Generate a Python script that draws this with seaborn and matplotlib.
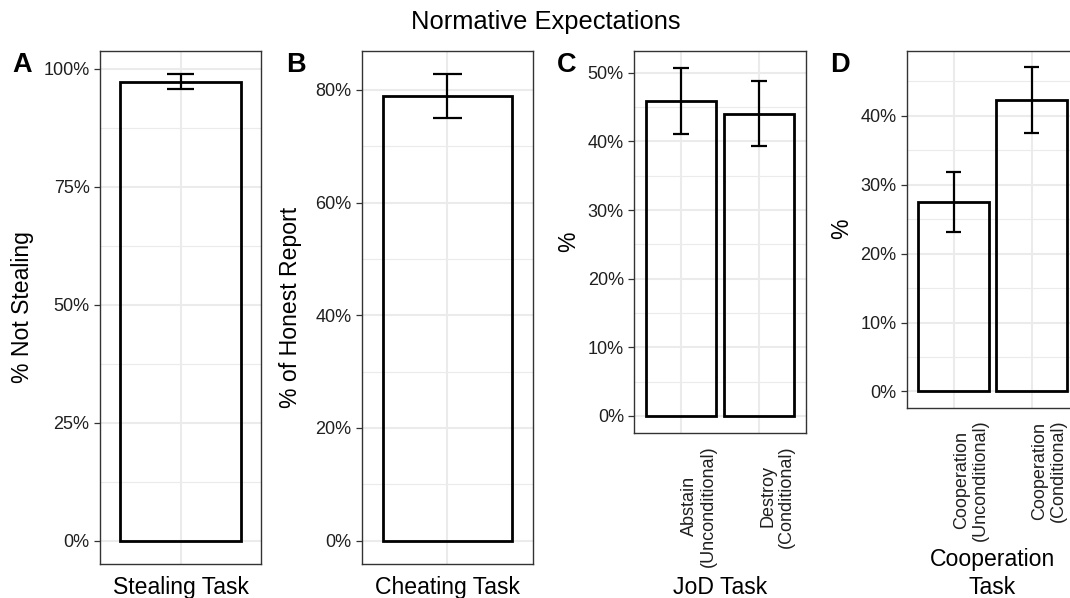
import matplotlib
matplotlib.use("Agg")
import matplotlib.pyplot as plt
import matplotlib.ticker as mticker
import seaborn as sns
import pandas as pd

# ---------------- data ----------------
a_categories = ["Stealing Task"]
a_values = [97.3]
a_errors = [1.6]

b_categories = ["Cheating Task"]
b_values = [78.9]
b_errors = [3.9]

c_categories = ["Abstain\n(Unconditional)", "Destroy\n(Conditional)"]
c_values = [45.9, 44.05]
c_errors = [4.8, 4.75]

d_categories = ["Cooperation\n(Unconditional)", "Cooperation\n(Conditional)"]
d_values = [27.5, 42.3]
d_errors = [4.3, 4.8]

a_ticks = [0, 25, 50, 75, 100]
b_ticks = [0, 20, 40, 60, 80]
c_ticks = [0, 10, 20, 30, 40, 50]
d_ticks = [0, 10, 20, 30, 40]

title = "Normative Expectations"
# ----------------------------------------------------------------

sns.set_theme(style="white")
plt.rcParams["font.family"] = ["Liberation Sans", "DejaVu Sans"]

W, H = 1070, 598
fig = plt.figure(figsize=(W / 100, H / 100), dpi=100)
fig.patch.set_facecolor("white")


def px_axes(left, top, right, bottom):
    return fig.add_axes([left / W, 1 - bottom / H, (right - left) / W, (bottom - top) / H])


GRID = "#EBEBEB"
DARK = "#333333"
TICKTXT = "#1F1F1F"
XTICK_SIZE = 13


def panel(ax, cats, vals, errs, ticks, ylabel, xlabel, show_xticks,
          ylab_x, xlab_y):
    df = pd.DataFrame({"cat": cats, "val": vals})
    sns.barplot(data=df, x="cat", y="val", ax=ax, color="black", fill=False,
                linewidth=2.0, width=0.9, errorbar=None, order=cats)
    # error bars
    xs = list(range(len(cats)))
    ax.errorbar(xs, vals, yerr=errs, fmt="none", ecolor="black",
                elinewidth=1.6, capsize=0, zorder=5)
    lows = [v - e for v, e in zip(vals, errs)]
    highs = [v + e for v, e in zip(vals, errs)]
    for x, lo, hi in zip(xs, lows, highs):
        ax.hlines([lo, hi], x - 0.1, x + 0.1, color="black", linewidth=1.6, zorder=5)

    ax.set_yticks(ticks)
    minors = [(t0 + t1) / 2 for t0, t1 in zip(ticks[:-1], ticks[1:])]
    step = ticks[1] - ticks[0]
    minors.append(ticks[-1] + step / 2)
    ax.set_yticks(minors, minor=True)
    ax.set_xticks(xs)

    top = max(highs)
    ax.set_ylim(-0.05 * top, top * 1.05)
    ax.set_xlim(-0.6, len(cats) - 0.4)

    ax.yaxis.set_major_formatter(mticker.PercentFormatter(xmax=100, decimals=0))
    ax.set_axisbelow(True)
    ax.grid(True, which="major", axis="both", color=GRID, linewidth=1.5)
    ax.grid(True, which="minor", axis="y", color=GRID, linewidth=0.8)

    ax.tick_params(axis="y", which="major", length=4, width=0.9, color=DARK,
                   labelsize=13, labelcolor=TICKTXT, pad=3.5, left=True)
    ax.tick_params(axis="y", which="minor", length=0)
    ax.tick_params(axis="x", length=0)
    if show_xticks:
        ax.set_xticklabels(cats, rotation=90, ha="left", va="top",
                           multialignment="center", fontsize=XTICK_SIZE,
                           color=TICKTXT, linespacing=1.12)
        ax.tick_params(axis="x", pad=8.5)
    else:
        ax.set_xticklabels([""] * len(cats))

    for s in ax.spines.values():
        s.set_visible(True)
        s.set_color(DARK)
        s.set_linewidth(1.0)

    ax.set_ylabel(ylabel, fontsize=16.6, color="black")
    ax.yaxis.set_label_coords(ylab_x, 0.5)
    ax.set_xlabel(xlabel, fontsize=16.6, color="black", multialignment="center",
                  linespacing=1.26)
    ax.xaxis.label.set_va("baseline")
    ax.xaxis.set_label_coords(0.5, xlab_y)


axA = px_axes(100, 50.7, 261, 564)
panel(axA, a_categories, a_values, a_errors, a_ticks, "% Not Stealing",
      "Stealing Task", False, -0.413, -0.0584)

axB = px_axes(361.7, 50.7, 533, 564)
panel(axB, b_categories, b_values, b_errors, b_ticks, "% of Honest Report",
      "Cheating Task", False, -0.346, -0.0584)

axC = px_axes(634.3, 50.7, 806, 433.3)
panel(axC, c_categories, c_values, c_errors, c_ticks, "%",
      "JoD Task", True, -0.316, -0.420)

axD = px_axes(906.7, 50.7, 1078.4, 407.7)
panel(axD, d_categories, d_values, d_errors, d_ticks, "%",
      "Cooperation\nTask", True, -0.313, -0.521)

fig.text(546 / W, 1 - 29 / H, title, ha="center", va="baseline",
         fontsize=18.4, color="black")

for letter, x in zip(["A", "B", "C", "D"], [12, 286, 557, 830]):
    fig.text(x / W, 1 - 72 / H, letter, ha="left", va="baseline",
             fontsize=19.5, fontweight="bold", color="black")

# fit the rotated category labels to the length seen in the reference
# ("(Unconditional)" spans about 121 px along its run)
fig.canvas.draw()
renderer = fig.canvas.get_renderer()
cur_len = axC.get_xticklabels()[0].get_window_extent(renderer).height
if cur_len > 0:
    new_size = XTICK_SIZE * 121.0 / cur_len
    for ax in (axC, axD):
        for lab in ax.get_xticklabels():
            lab.set_fontsize(new_size)

fig.savefig("out.png", dpi=100)
